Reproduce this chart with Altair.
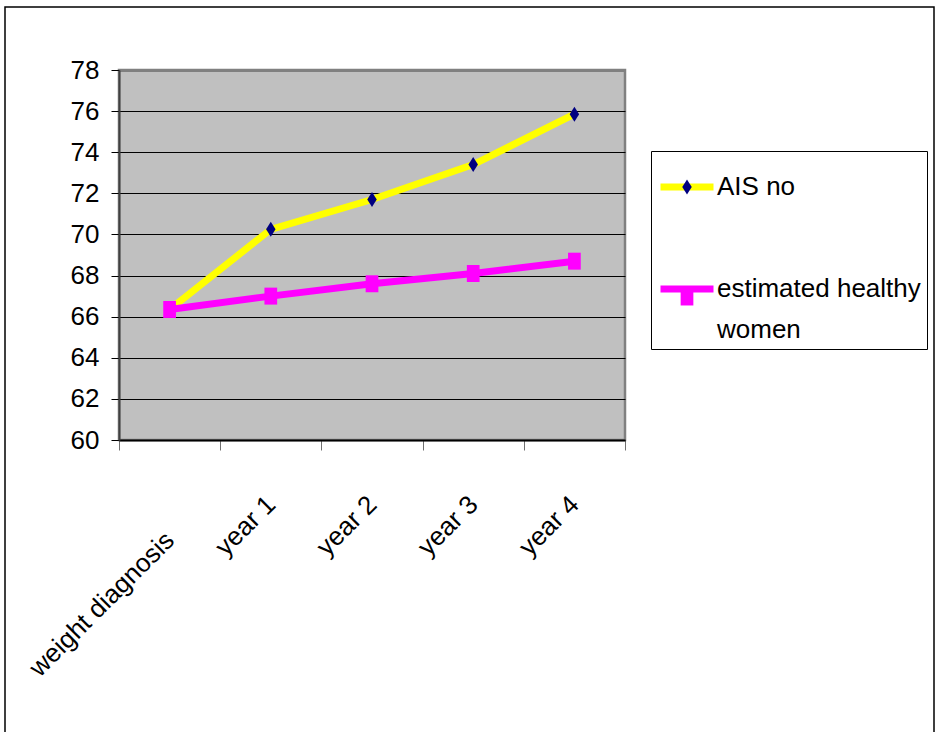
import altair as alt
import pandas as pd

# Categories and series values (body weight, kg)
time_points = ["weight diagnosis", "year 1", "year 2", "year 3", "year 4"]
series_names = ["AIS no", "estimated healthy women"]
ais_no = [66.35, 70.25, 71.7, 73.4, 75.85]
healthy_women = [66.35, 67.0, 67.6, 68.1, 68.7]
y_ticks = [60, 62, 64, 66, 68, 70, 72, 74, 76, 78]

line_colors = ["#FFFF00", "#FF00FF"]
marker_colors = ["#000080", "#FF00FF"]
# tall diamond and upright rectangle markers, in a unit box that is drawn at
# the same symbol size as the legend line so both legends share one row layout
MARKER_SIZE = 2809
marker_shapes = [
    "M0,-0.283L0.179,0L0,0.283L-0.179,0Z",
    "M-0.24,-0.32L0.24,-0.32L0.24,0.32L-0.24,0.32Z",
]

rows = []
for name, values in zip(series_names, [ais_no, healthy_women]):
    for t, v in zip(time_points, values):
        rows.append({"time": t, "series": name, "marker": name, "weight": v})
df = pd.DataFrame(rows)

FONT = "Liberation Sans Narrow, Liberation Sans, Arial, sans-serif"
FS = 26

# wrapped legend label for the second series
label_expr = ("datum.label == 'estimated healthy women' ? "
              "['estimated healthy', 'women'] : datum.label")
# blank lines with the same line count, so the marker legend keeps the same rows
blank_expr = "datum.label == 'estimated healthy women' ? [' ', ' '] : ' '"

x_enc = alt.X(
    "time:N", sort=time_points,
    scale=alt.Scale(type="band", paddingInner=0, paddingOuter=0),
    axis=alt.Axis(title=None, labelAngle=-45, labelAlign="right", labelBaseline="middle",
                  tickBand="extent", grid=False, tickSize=10,
                  labelPadding={"condition": {"test": "datum.index == 0", "value": 86},
                                "value": 50},
                  labelFontSize=FS, labelFont=FONT, labelColor="black",
                  domainColor="black", domainWidth=2, tickColor="#707070",
                  labelLimit=400, labelOverlap=False),
)
y_enc = alt.Y(
    "weight:Q",
    scale=alt.Scale(domain=[60, 78], nice=False, zero=False),
    axis=alt.Axis(title=None, values=y_ticks, tickSize=8, labelPadding=12,
                  labelFontSize=FS, labelFont=FONT, labelColor="black",
                  domainColor="#404040", domainWidth=2, tickColor="black",
                  grid=True,
                  gridColor={"condition": {"test": "datum.value == 78", "value": "#808080"},
                             "value": "black"},
                  gridWidth={"condition": {"test": "datum.value == 78", "value": 3},
                             "value": 1},
                  gridOpacity=1, labelOverlap=False),
)

legend_common = dict(
    orient="none", legendX=532, legendY=81, title=None, padding=6,
    labelFont=FONT, labelFontSize=FS, labelLimit=400,
    rowPadding=58, labelOffset=0,
    symbolSize=MARKER_SIZE, symbolStrokeWidth=7,
)

# line legend (box + labels)
lines = alt.Chart(df).mark_line(strokeWidth=7).encode(
    x=x_enc,
    y=y_enc,
    color=alt.Color(
        "series:N",
        scale=alt.Scale(domain=series_names, range=line_colors),
        legend=alt.Legend(symbolType="stroke", labelColor="black", labelExpr=label_expr,
                          strokeColor="black", fillColor="white", **legend_common),
    ),
)

# marker legend drawn over the line legend, same rows, no visible labels
marker_legend = alt.Legend(symbolStrokeColor="transparent", labelColor="transparent",
                           labelExpr=blank_expr, **legend_common)
points = alt.Chart(df).mark_point(filled=True, opacity=1, size=MARKER_SIZE, strokeWidth=0).encode(
    x=x_enc,
    y=y_enc,
    shape=alt.Shape("marker:N", scale=alt.Scale(range=marker_shapes), legend=marker_legend),
    fill=alt.Fill("marker:N", scale=alt.Scale(range=marker_colors), legend=marker_legend),
)

# outer chart border
frame = alt.Chart(alt.Data(values=[{}])).mark_rect(
    fill="transparent", stroke="black", strokeWidth=1.5
).encode(x=alt.value(-114), x2=alt.value(815), y=alt.value(-63), y2=alt.value(720))

chart = alt.layer(frame, lines, points).properties(
    width=506, height=370,
    padding={"left": 119, "top": 70, "right": 314, "bottom": 292},
    autosize=alt.AutoSizeParams(type="none"),
    background="white",
).configure(
    style={"guide-label": {"lineHeight": 41}},
).configure_view(
    fill="#C0C0C0", stroke="#808080", strokeWidth=2.5,
)

chart.save("out.html", embed_options={"renderer": "svg", "actions": False})
